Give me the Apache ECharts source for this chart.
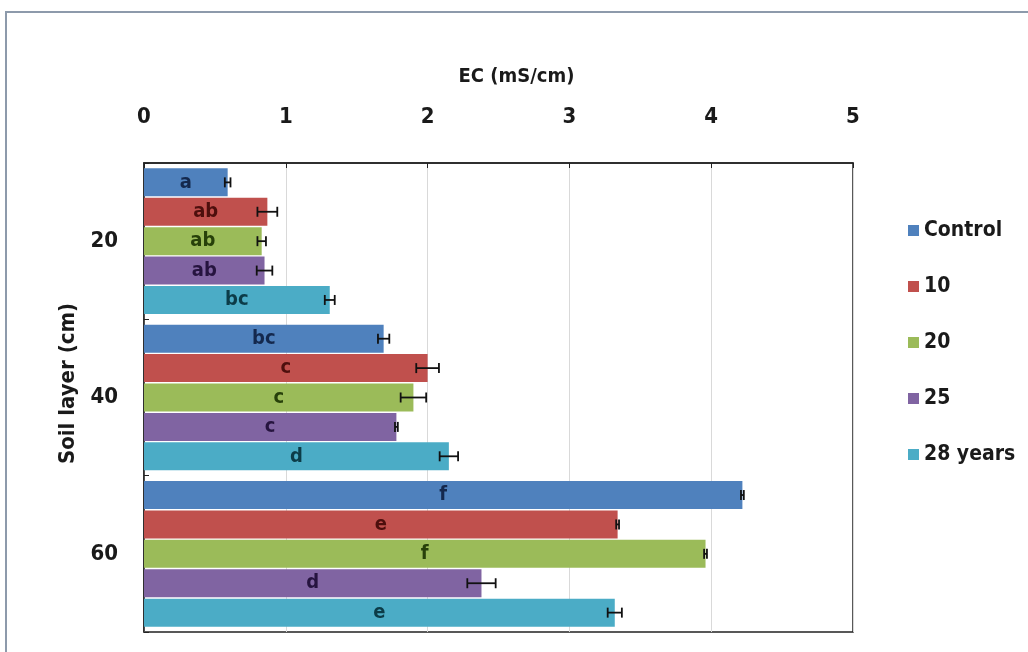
<!DOCTYPE html>
<html>
<head>
<meta charset="utf-8">
<script src="https://cdn.jsdelivr.net/npm/echarts@6/dist/echarts.min.js"></script>
<style>
html,body{margin:0;padding:0;background:#fff;}
#chart{width:1028px;height:652px;}
</style>
</head>
<body>
<div id="chart"></div>
<script>
const categories = ['20', '40', '60'];
const seriesNames = ['Control', '10', '20', '25', '28 years'];
const colors = ['#4F81BD', '#C0504D', '#9BBB59', '#8064A2', '#4BACC6'];
const labelColors = ['#14284d', '#4d0f0d', '#27400a', '#26143f', '#0c3c48'];

const controlValues = [0.59, 1.69, 4.22];
const y10Values = [0.87, 2.00, 3.34];
const y20Values = [0.83, 1.90, 3.96];
const y25Values = [0.85, 1.78, 2.38];
const y28Values = [1.31, 2.15, 3.32];

const controlErr = [0.02, 0.04, 0.01];
const y10Err = [0.07, 0.08, 0.01];
const y20Err = [0.03, 0.09, 0.01];
const y25Err = [0.055, 0.01, 0.10];
const y28Err = [0.035, 0.065, 0.05];

const controlLetters = ['a', 'bc', 'f'];
const y10Letters = ['ab', 'c', 'e'];
const y20Letters = ['ab', 'c', 'f'];
const y25Letters = ['ab', 'c', 'd'];
const y28Letters = ['bc', 'd', 'e'];

const xTicks = [0, 1, 2, 3, 4, 5];

const allValues = [controlValues, y10Values, y20Values, y25Values, y28Values];
const allErr = [controlErr, y10Err, y20Err, y25Err, y28Err];
const allLetters = [controlLetters, y10Letters, y20Letters, y25Letters, y28Letters];

const BAR_W = 28;
const BAR_GAP_PCT = 0.05;
const nSeries = seriesNames.length;
const gapPx = BAR_W * BAR_GAP_PCT;
const totalW = nSeries * BAR_W + (nSeries - 1) * gapPx;

const font = '"Liberation Sans Narrow", "DejaVu Sans Condensed", sans-serif';

const series = [];
for (let i = 0; i < nSeries; i++) {
  const letters = allLetters[i];
  series.push({
    name: seriesNames[i],
    type: 'bar',
    barWidth: BAR_W,
    barGap: (BAR_GAP_PCT * 100) + '%',
    itemStyle: { color: colors[i] },
    label: {
      show: true,
      position: 'inside',
      formatter: p => letters[p.dataIndex],
      color: labelColors[i],
      fontFamily: font,
      fontWeight: 'bold',
      fontSize: 20
    },
    data: allValues[i]
  });
}

for (let i = 0; i < nSeries; i++) {
  const vals = allValues[i];
  const errs = allErr[i];
  const data = vals.map((v, k) => [k, v, errs[k]]);
  const offset = -totalW / 2 + i * (BAR_W + gapPx) + BAR_W / 2;
  series.push({
    type: 'custom',
    name: seriesNames[i] + ' err',
    silent: true,
    z: 10,
    renderItem: function (params, api) {
      const c = api.value(0), v = api.value(1), e = api.value(2);
      const p = api.coord([v, c]);
      const lo = api.coord([v - e, c]);
      const hi = api.coord([v + e, c]);
      const y = p[1] + offset;
      const cap = 5;
      const st = { stroke: '#111', lineWidth: 1.8 };
      return {
        type: 'group',
        children: [
          { type: 'line', shape: { x1: lo[0], y1: y, x2: hi[0], y2: y }, style: st },
          { type: 'line', shape: { x1: lo[0], y1: y - cap, x2: lo[0], y2: y + cap }, style: st },
          { type: 'line', shape: { x1: hi[0], y1: y - cap, x2: hi[0], y2: y + cap }, style: st }
        ]
      };
    },
    encode: { x: 1, y: 0 },
    data: data
  });
}

const chart = echarts.init(document.getElementById('chart'));
chart.setOption({
  backgroundColor: '#ffffff',
  animation: false,
  graphic: [{
    type: 'rect',
    shape: { x: 6, y: 12, width: 1040, height: 660 },
    style: { fill: 'none', stroke: '#8d9aab', lineWidth: 2 },
    silent: true
  }],
  legend: {
    orient: 'vertical',
    left: 903,
    top: 215,
    itemWidth: 11,
    itemHeight: 11,
    itemGap: 35,
    icon: 'rect',
    data: seriesNames,
    textStyle: { fontFamily: font, fontSize: 21, color: '#1a1a1a', fontWeight: 'bold', padding: [0, 0, 0, 0] }
  },
  grid: {
    left: 144, right: 175, top: 163, bottom: 20,
    show: true, borderColor: '#222', borderWidth: 1.5,
    containLabel: false
  },
  xAxis: {
    type: 'value',
    position: 'top',
    min: 0, max: 5, interval: 1,
    name: 'EC (mS/cm)',
    nameLocation: 'middle',
    nameGap: 76,
    nameTextStyle: { fontFamily: font, fontSize: 20, fontWeight: 'bold', color: '#1a1a1a', padding: [0, 0, 0, 36] },
    axisLine: { show: true, lineStyle: { color: '#222', width: 1.5 } },
    axisTick: { show: true, inside: true, length: 5, lineStyle: { color: '#222' } },
    axisLabel: {
      margin: 35,
      fontFamily: font, fontSize: 22, fontWeight: 'bold', color: '#1a1a1a',
      formatter: v => String(xTicks[xTicks.indexOf(v)])
    },
    splitLine: { show: true, lineStyle: { color: '#d9d9d9', width: 1 } }
  },
  yAxis: {
    type: 'category',
    inverse: true,
    data: categories,
    name: 'Soil layer (cm)',
    nameLocation: 'middle',
    nameRotate: 90,
    nameGap: 65,
    nameTextStyle: { fontFamily: font, fontSize: 22, fontWeight: 'bold', color: '#1a1a1a', padding: [0, 0, 0, 28] },
    axisLine: { show: true, lineStyle: { color: '#222', width: 1.5 } },
    axisTick: { show: true, inside: true, length: 5, lineStyle: { color: '#222' } },
    axisLabel: { margin: 26, fontFamily: font, fontSize: 22, fontWeight: 'bold', color: '#1a1a1a' },
    splitLine: { show: false }
  },
  series: series
});
</script>
</body>
</html>
